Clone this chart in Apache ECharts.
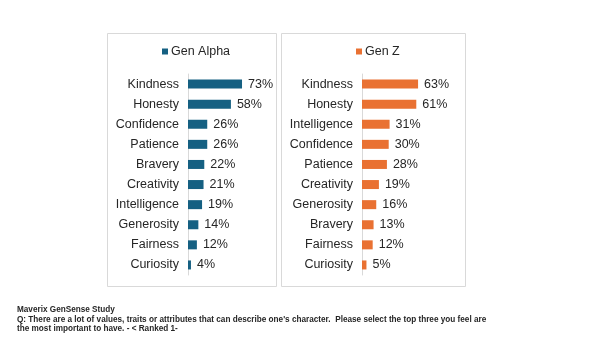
<!DOCTYPE html>
<html>
<head>
<meta charset="utf-8">
<script src="https://cdn.jsdelivr.net/npm/echarts@6/dist/echarts.min.js"></script>
<style>
  html, body { margin: 0; padding: 0; background: #fff; }
  #chart { width: 600px; height: 353px; }
</style>
</head>
<body>
<div id="chart"></div>
<script>
// values
const alphaCats = ["Kindness", "Honesty", "Confidence", "Patience", "Bravery", "Creativity", "Intelligence", "Generosity", "Fairness", "Curiosity"];
const alphaVals = [73, 58, 26, 26, 22, 21, 19, 14, 12, 4];
const zCats = ["Kindness", "Honesty", "Intelligence", "Confidence", "Patience", "Creativity", "Generosity", "Bravery", "Fairness", "Curiosity"];
const zVals = [63, 61, 31, 30, 28, 19, 16, 13, 12, 5];
const footerLines = [
  "Maverix GenSense Study",
  "Q: There are a lot of values, traits or attributes that can describe one's character.  Please select the top three you feel are",
  "the most important to have. - < Ranked 1-"
];

const blue = "#156082", orange = "#E97132";
const font = "'Liberation Sans', Arial, sans-serif";

let myChart = echarts.init(document.getElementById("chart"));

function catAxis(idx, cats) {
  return {
    type: "category",
    gridIndex: idx,
    inverse: true,
    data: cats,
    axisLine: { show: true, lineStyle: { color: "#d9d9d9", width: 1 } },
    axisTick: { show: false },
    axisLabel: { color: "#262626", fontSize: 12.5, fontFamily: font, margin: 9 }
  };
}
function valAxis(idx) {
  return {
    type: "value",
    gridIndex: idx,
    min: 0,
    max: 100,
    show: false,
    splitLine: { show: false }
  };
}
function barSeries(idx, name, vals, color) {
  return {
    name: name,
    type: "bar",
    xAxisIndex: idx,
    yAxisIndex: idx,
    data: vals,
    barWidth: 9,
    itemStyle: { color: color },
    label: {
      show: true,
      position: "right",
      distance: 6,
      formatter: "{c}%",
      color: "#262626",
      fontSize: 12.5,
      fontFamily: font
    }
  };
}

const options = {
  animation: false,
  backgroundColor: "#fff",
  grid: [
    { left: 188, top: 74, width: 74, height: 201 },
    { left: 362, top: 74, width: 89, height: 201 }
  ],
  legend: [
    {
      data: ["Gen Alpha"], left: 157, top: 40, itemWidth: 6, itemHeight: 6,
      icon: "rect", textStyle: { fontSize: 12.5, color: "#262626", fontFamily: font, padding: [0, 0, 0, -2] }
    },
    {
      data: ["Gen Z"], left: 351, top: 40, itemWidth: 6, itemHeight: 6,
      icon: "rect", textStyle: { fontSize: 12.5, color: "#262626", fontFamily: font, padding: [0, 0, 0, -2] }
    }
  ],
  xAxis: [valAxis(0), valAxis(1)],
  yAxis: [catAxis(0, alphaCats), catAxis(1, zCats)],
  graphic: [
    { type: "rect", shape: { x: 107.5, y: 33.5, width: 169, height: 253 }, style: { fill: "none", stroke: "#d9d9d9", lineWidth: 1 }, z: -1 },
    { type: "rect", shape: { x: 281.5, y: 33.5, width: 184, height: 253 }, style: { fill: "none", stroke: "#d9d9d9", lineWidth: 1 }, z: -1 },
    { type: "text", left: 17, top: 306, style: { text: footerLines[0], font: "bold 8.2px " + font, fill: "#262626" } },
    { type: "text", left: 17, top: 316, style: { text: footerLines[1], font: "bold 8.2px " + font, fill: "#262626" } },
    { type: "text", left: 17, top: 325, style: { text: footerLines[2], font: "bold 8.2px " + font, fill: "#262626" } }
  ],
  series: [
    barSeries(0, "Gen Alpha", alphaVals, blue),
    barSeries(1, "Gen Z", zVals, orange)
  ]
};
myChart.setOption(options);
</script>
</body>
</html>
